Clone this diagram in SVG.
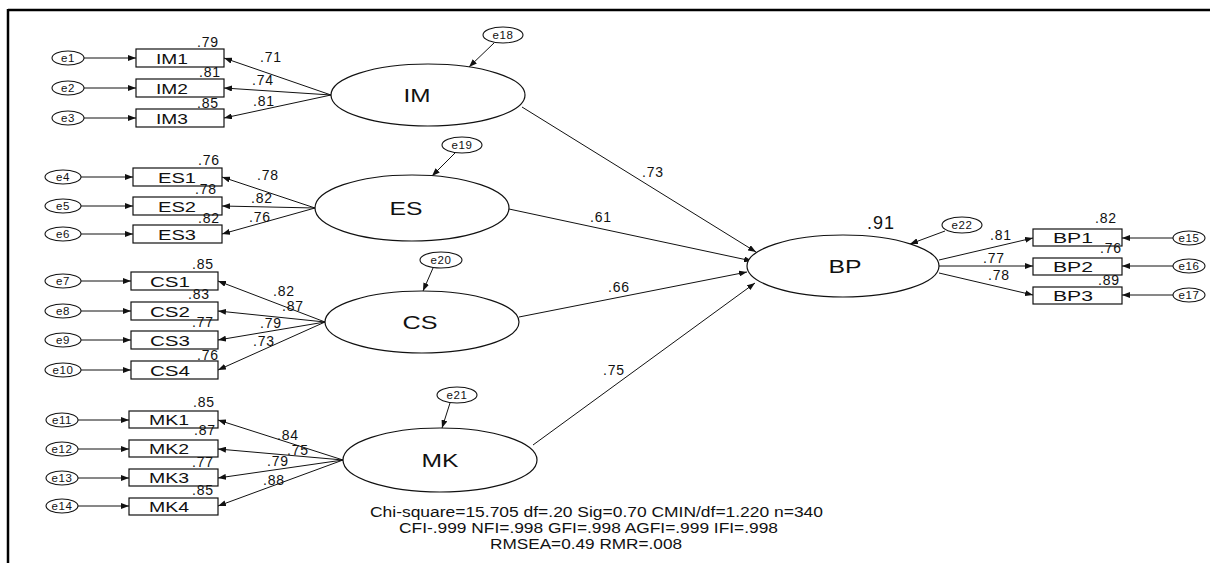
<svg xmlns="http://www.w3.org/2000/svg" width="1210" height="563" viewBox="0 0 1210 563">
<defs>
<marker id="ah" markerUnits="userSpaceOnUse" markerWidth="8" markerHeight="6" refX="8" refY="3" orient="auto">
<path d="M0,0 L8,3 L0,6 z" fill="#111"/>
</marker>
<style>
text{font-family:"Liberation Sans",Arial,sans-serif;fill:#111}
.lat{fill:#fff;stroke:#111;stroke-width:1.2}
.err{fill:#fff;stroke:#111;stroke-width:1.1}
.obs{fill:#fff;stroke:#111;stroke-width:1.2}
.lbl{font-size:15px;text-anchor:middle}
.lt{font-size:19px;text-anchor:middle}
.el{font-size:11.5px;letter-spacing:0.6px;text-anchor:middle}
.num{font-size:14px;letter-spacing:0.8px}
.fit{font-size:14px}
#connectors line{stroke:#111;stroke-width:1;marker-end:url(#ah)}
</style>
</defs>
<rect x="0" y="0" width="1210" height="563" fill="#fff"/>
<line x1="8" y1="10" x2="1210" y2="10" stroke="#000" stroke-width="2.5"/>
<line x1="8" y1="9" x2="8" y2="563" stroke="#000" stroke-width="2.5"/>

<g id="connectors">
<line x1="84" y1="58" x2="136" y2="58"/>
<line x1="84" y1="88" x2="136" y2="88"/>
<line x1="84" y1="118" x2="136" y2="118"/>
<line x1="81" y1="177" x2="133" y2="177"/>
<line x1="81" y1="206" x2="133" y2="206"/>
<line x1="81" y1="234" x2="133" y2="234"/>
<line x1="81" y1="281" x2="131" y2="281"/>
<line x1="81" y1="311" x2="131" y2="311"/>
<line x1="81" y1="340" x2="131" y2="340"/>
<line x1="81" y1="370" x2="131" y2="370"/>
<line x1="78" y1="420" x2="129" y2="420"/>
<line x1="78" y1="449" x2="129" y2="449"/>
<line x1="78" y1="478" x2="129" y2="478"/>
<line x1="78" y1="506" x2="129" y2="506"/>
<line x1="1173" y1="238" x2="1122" y2="238"/>
<line x1="1173" y1="266" x2="1122" y2="266"/>
<line x1="1173" y1="295" x2="1122" y2="295"/>
<line x1="331" y1="95" x2="224" y2="58"/>
<line x1="331" y1="95" x2="224" y2="88"/>
<line x1="331" y1="95" x2="224" y2="118"/>
<line x1="315" y1="208" x2="222" y2="177"/>
<line x1="315" y1="208" x2="222" y2="206"/>
<line x1="315" y1="208" x2="222" y2="234"/>
<line x1="325" y1="322" x2="218" y2="281"/>
<line x1="325" y1="322" x2="218" y2="311"/>
<line x1="325" y1="322" x2="218" y2="340"/>
<line x1="325" y1="322" x2="218" y2="370"/>
<line x1="343" y1="460" x2="218" y2="420"/>
<line x1="343" y1="460" x2="218" y2="449"/>
<line x1="343" y1="460" x2="218" y2="478"/>
<line x1="343" y1="460" x2="218" y2="506"/>
<line x1="939" y1="260" x2="1033" y2="238"/>
<line x1="939" y1="266" x2="1033" y2="266"/>
<line x1="939" y1="273" x2="1033" y2="295"/>
<line x1="522" y1="107" x2="756" y2="252"/>
<line x1="509" y1="209" x2="752" y2="261"/>
<line x1="519" y1="317" x2="747" y2="272"/>
<line x1="533" y1="445" x2="755" y2="283"/>
<line x1="494" y1="43" x2="469" y2="67"/>
<line x1="455" y1="153" x2="432" y2="176"/>
<line x1="433" y1="268" x2="423" y2="291"/>
<line x1="450" y1="403" x2="442" y2="428"/>
<line x1="945" y1="231" x2="910" y2="244"/>
</g>

<g id="e1"><ellipse class="err" cx="68" cy="58" rx="16" ry="7"/><text class="el" x="68" y="62">e1</text></g>
<g id="e2"><ellipse class="err" cx="68" cy="88" rx="16" ry="7"/><text class="el" x="68" y="92">e2</text></g>
<g id="e3"><ellipse class="err" cx="68" cy="118" rx="16" ry="7"/><text class="el" x="68" y="122">e3</text></g>
<g id="IM1"><rect class="obs" x="136" y="49" width="88" height="18"/><text class="lbl" x="172" y="64" textLength="32" lengthAdjust="spacingAndGlyphs">IM1</text></g>
<g id="IM2"><rect class="obs" x="136" y="79" width="88" height="18"/><text class="lbl" x="172" y="94" textLength="32" lengthAdjust="spacingAndGlyphs">IM2</text></g>
<g id="IM3"><rect class="obs" x="136" y="109" width="88" height="18"/><text class="lbl" x="172" y="124" textLength="32" lengthAdjust="spacingAndGlyphs">IM3</text></g>
<g id="IM"><ellipse class="lat" cx="428" cy="95" rx="97" ry="31"/><text class="lt" x="417" y="102" textLength="27" lengthAdjust="spacingAndGlyphs">IM</text></g>
<g id="e18"><ellipse class="err" cx="503" cy="35" rx="20" ry="8"/><text class="el" x="503" y="39">e18</text></g>

<g id="e4"><ellipse class="err" cx="63" cy="177" rx="18" ry="7"/><text class="el" x="63" y="181">e4</text></g>
<g id="e5"><ellipse class="err" cx="63" cy="206" rx="18" ry="7"/><text class="el" x="63" y="210">e5</text></g>
<g id="e6"><ellipse class="err" cx="63" cy="234" rx="18" ry="7"/><text class="el" x="63" y="238">e6</text></g>
<g id="ES1"><rect class="obs" x="133" y="168" width="89" height="18"/><text class="lbl" x="177" y="183" textLength="38" lengthAdjust="spacingAndGlyphs">ES1</text></g>
<g id="ES2"><rect class="obs" x="133" y="197" width="89" height="18"/><text class="lbl" x="177" y="212" textLength="38" lengthAdjust="spacingAndGlyphs">ES2</text></g>
<g id="ES3"><rect class="obs" x="133" y="225" width="89" height="18"/><text class="lbl" x="177" y="240" textLength="38" lengthAdjust="spacingAndGlyphs">ES3</text></g>
<g id="ES"><ellipse class="lat" cx="412" cy="208" rx="97" ry="33"/><text class="lt" x="406" y="215" textLength="33" lengthAdjust="spacingAndGlyphs">ES</text></g>
<g id="e19"><ellipse class="err" cx="462" cy="145" rx="20" ry="8"/><text class="el" x="462" y="149">e19</text></g>

<g id="e7"><ellipse class="err" cx="63" cy="281" rx="18" ry="7"/><text class="el" x="63" y="285">e7</text></g>
<g id="e8"><ellipse class="err" cx="63" cy="311" rx="18" ry="7"/><text class="el" x="63" y="315">e8</text></g>
<g id="e9"><ellipse class="err" cx="63" cy="340" rx="18" ry="7"/><text class="el" x="63" y="344">e9</text></g>
<g id="e10"><ellipse class="err" cx="63" cy="370" rx="18" ry="7"/><text class="el" x="63" y="374">e10</text></g>
<g id="CS1"><rect class="obs" x="131" y="272" width="87" height="18"/><text class="lbl" x="170" y="287" textLength="40" lengthAdjust="spacingAndGlyphs">CS1</text></g>
<g id="CS2"><rect class="obs" x="131" y="302" width="87" height="18"/><text class="lbl" x="170" y="317" textLength="40" lengthAdjust="spacingAndGlyphs">CS2</text></g>
<g id="CS3"><rect class="obs" x="131" y="331" width="87" height="18"/><text class="lbl" x="170" y="346" textLength="40" lengthAdjust="spacingAndGlyphs">CS3</text></g>
<g id="CS4"><rect class="obs" x="131" y="361" width="87" height="18"/><text class="lbl" x="170" y="376" textLength="40" lengthAdjust="spacingAndGlyphs">CS4</text></g>
<g id="CS"><ellipse class="lat" cx="422" cy="322" rx="97" ry="31"/><text class="lt" x="420" y="329" textLength="35" lengthAdjust="spacingAndGlyphs">CS</text></g>
<g id="e20"><ellipse class="err" cx="441" cy="260" rx="21" ry="8"/><text class="el" x="441" y="264">e20</text></g>

<g id="e11"><ellipse class="err" cx="62" cy="420" rx="16" ry="7"/><text class="el" x="62" y="424">e11</text></g>
<g id="e12"><ellipse class="err" cx="62" cy="449" rx="16" ry="7"/><text class="el" x="62" y="453">e12</text></g>
<g id="e13"><ellipse class="err" cx="62" cy="478" rx="16" ry="7"/><text class="el" x="62" y="482">e13</text></g>
<g id="e14"><ellipse class="err" cx="62" cy="506" rx="16" ry="7"/><text class="el" x="62" y="510">e14</text></g>
<g id="MK1"><rect class="obs" x="129" y="411" width="89" height="17"/><text class="lbl" x="169" y="425" textLength="40" lengthAdjust="spacingAndGlyphs">MK1</text></g>
<g id="MK2"><rect class="obs" x="129" y="440" width="89" height="17"/><text class="lbl" x="169" y="454" textLength="40" lengthAdjust="spacingAndGlyphs">MK2</text></g>
<g id="MK3"><rect class="obs" x="129" y="469" width="89" height="17"/><text class="lbl" x="169" y="483" textLength="40" lengthAdjust="spacingAndGlyphs">MK3</text></g>
<g id="MK4"><rect class="obs" x="129" y="498" width="89" height="17"/><text class="lbl" x="169" y="512" textLength="40" lengthAdjust="spacingAndGlyphs">MK4</text></g>
<g id="MK"><ellipse class="lat" cx="440" cy="460" rx="97" ry="32"/><text class="lt" x="440" y="467" textLength="37" lengthAdjust="spacingAndGlyphs">MK</text></g>
<g id="e21"><ellipse class="err" cx="457" cy="395" rx="20" ry="8"/><text class="el" x="457" y="399">e21</text></g>

<g id="BP"><ellipse class="lat" cx="843" cy="266" rx="96" ry="31"/><text class="lt" x="845" y="273" textLength="33" lengthAdjust="spacingAndGlyphs">BP</text></g>
<g id="e22"><ellipse class="err" cx="962" cy="225" rx="20" ry="8"/><text class="el" x="962" y="229">e22</text></g>
<g id="BP1"><rect class="obs" x="1033" y="229" width="89" height="17"/><text class="lbl" x="1073" y="243" textLength="40" lengthAdjust="spacingAndGlyphs">BP1</text></g>
<g id="BP2"><rect class="obs" x="1033" y="258" width="89" height="17"/><text class="lbl" x="1073" y="272" textLength="40" lengthAdjust="spacingAndGlyphs">BP2</text></g>
<g id="BP3"><rect class="obs" x="1033" y="287" width="89" height="17"/><text class="lbl" x="1073" y="301" textLength="40" lengthAdjust="spacingAndGlyphs">BP3</text></g>
<g id="e15"><ellipse class="err" cx="1189" cy="238" rx="16" ry="7"/><text class="el" x="1189" y="242">e15</text></g>
<g id="e16"><ellipse class="err" cx="1189" cy="266" rx="16" ry="7"/><text class="el" x="1189" y="270">e16</text></g>
<g id="e17"><ellipse class="err" cx="1189" cy="295" rx="16" ry="7"/><text class="el" x="1189" y="299">e17</text></g>

<g id="values">
<text class="num" x="197" y="47">.79</text>
<text class="num" x="199" y="77">.81</text>
<text class="num" x="197" y="108">.85</text>
<text class="num" x="260" y="62">.71</text>
<text class="num" x="252" y="85">.74</text>
<text class="num" x="253" y="106">.81</text>
<text class="num" x="198" y="165">.76</text>
<text class="num" x="195" y="194">.78</text>
<text class="num" x="198" y="223">.82</text>
<text class="num" x="257" y="180">.78</text>
<text class="num" x="251" y="203">.82</text>
<text class="num" x="249" y="222">.76</text>
<text class="num" x="192" y="269">.85</text>
<text class="num" x="188" y="299">.83</text>
<text class="num" x="192" y="327">.77</text>
<text class="num" x="197" y="360">.76</text>
<text class="num" x="273" y="296">.82</text>
<text class="num" x="282" y="311">.87</text>
<text class="num" x="260" y="328">.79</text>
<text class="num" x="253" y="346">.73</text>
<text class="num" x="193" y="407">.85</text>
<text class="num" x="194" y="435">.87</text>
<text class="num" x="192" y="467">.77</text>
<text class="num" x="192" y="495">.85</text>
<text class="num" x="277" y="440">.84</text>
<text class="num" x="287" y="455">.75</text>
<text class="num" x="267" y="466">.79</text>
<text class="num" x="263" y="485">.88</text>
<text class="num" x="1095" y="223">.82</text>
<text class="num" x="1100" y="253">.76</text>
<text class="num" x="1098" y="285">.89</text>
<text class="num" x="990" y="240">.81</text>
<text class="num" x="983" y="263">.77</text>
<text class="num" x="988" y="280">.78</text>
<text class="num" x="642" y="177">.73</text>
<text class="num" x="590" y="222">.61</text>
<text class="num" x="608" y="292">.66</text>
<text class="num" x="603" y="375">.75</text>
<text x="867" y="229" style="font-size:18px;letter-spacing:1px">.91</text>
</g>

<g id="fit">
<text class="fit" x="370" y="517" textLength="453" lengthAdjust="spacingAndGlyphs">Chi-square=15.705 df=.20 Sig=0.70 CMIN/df=1.220  n=340</text>
<text class="fit" x="399" y="533" textLength="379" lengthAdjust="spacingAndGlyphs">CFI-.999 NFI=.998 GFI=.998 AGFI=.999 IFI=.998</text>
<text class="fit" x="490" y="549" textLength="192" lengthAdjust="spacingAndGlyphs">RMSEA=0.49 RMR=.008</text>
</g>
</svg>
